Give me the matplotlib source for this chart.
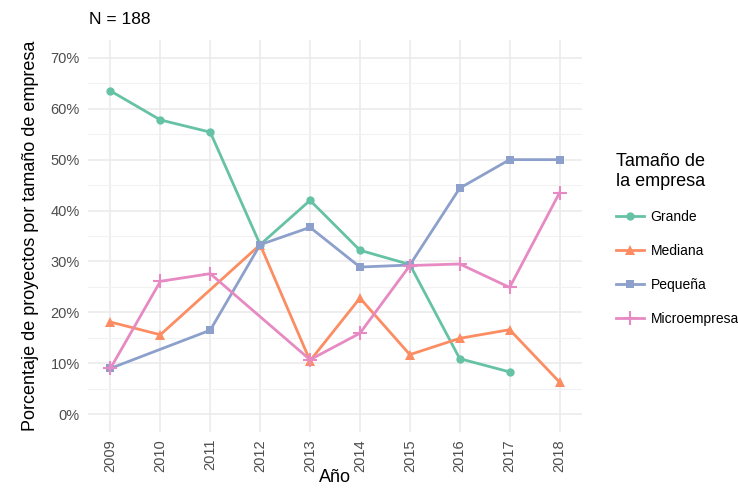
import numpy as np
import matplotlib
matplotlib.use("Agg")
import matplotlib.pyplot as plt
from matplotlib.lines import Line2D
from matplotlib.ticker import FuncFormatter, MultipleLocator

plt.rcParams['font.family'] = ['Liberation Sans', 'DejaVu Sans']

years = [2009, 2010, 2011, 2012, 2013, 2014, 2015, 2016, 2017, 2018]
nan = np.nan
grande = [63.5, 57.8, 55.4, 33.3, 42.0, 32.2, 29.4, 10.9, 8.3, nan]
mediana = [18.1, 15.6, nan, 33.3, 10.5, 22.8, 11.7, 14.9, 16.6, 6.3]
pequena = [9.0, nan, 16.5, 33.3, 36.7, 28.9, 29.3, 44.4, 50.0, 50.0]
micro = [9.0, 26.1, 27.6, nan, 10.7, 15.9, 29.2, 29.5, 24.9, 43.5]

series_names = ["Grande", "Mediana", "Pequeña", "Microempresa"]
series_vals = [grande, mediana, pequena, micro]
colors = ["#66C2A5", "#FC8D62", "#8DA0CB", "#E78AC3"]
markers = ["o", "^", "s", "+"]
msizes = [6, 7, 6, 10]

fig = plt.figure(figsize=(7.38, 4.88), dpi=100)
ax = fig.add_axes([88/738, 1-432/488, (582-88)/738, (432-40)/488])

handles = []
for name, vals, c, m, ms in zip(series_names, series_vals, colors, markers, msizes):
    x = np.array(years, dtype=float)
    y = np.array(vals, dtype=float) / 100
    ok = ~np.isnan(y)
    ax.plot(x[ok], y[ok], color=c, lw=2, marker=m, ms=ms, mew=1.5 if m == "+" else 0,
            markerfacecolor=c, markeredgecolor=c, zorder=3)
    handles.append(Line2D([0], [0], color=c, lw=2, marker=m, ms=ms, mew=1.5 if m == "+" else 0,
                          markerfacecolor=c, markeredgecolor=c))

ax.set_xlim(2009 - 0.45, 2018 + 0.45)
ax.set_ylim(-0.035, 0.735)
ax.set_xticks(years)
ax.set_xticklabels([str(y) for y in years], rotation=90)
ax.yaxis.set_major_locator(MultipleLocator(0.1))
ax.yaxis.set_minor_locator(MultipleLocator(0.05))
ax.yaxis.set_major_formatter(FuncFormatter(lambda v, p: f"{v*100:.0f}%"))

ax.grid(True, which='major', color='#EBEBEB', lw=1.2)
ax.grid(True, which='minor', axis='y', color='#F2F2F2', lw=0.8)
ax.set_axisbelow(True)
for s in ax.spines.values():
    s.set_visible(False)
ax.tick_params(axis='both', which='both', length=0, labelsize=10.5, labelcolor='#4D4D4D')
ax.tick_params(axis='x', pad=5)
ax.tick_params(axis='y', pad=6)

ax.set_xlabel("Año", fontsize=13, color='black', labelpad=-2)
ax.set_ylabel("Porcentaje de proyectos por tamaño de empresa", fontsize=13, color='black', labelpad=8)

fig.text(89/738, 1-20/488, "N = 188", fontsize=12.5, va='center', ha='left')

leg = fig.legend(handles, series_names, loc='upper left', bbox_to_anchor=(609/738, 1-146/488),
                 frameon=False, fontsize=10, title="Tamaño de\nla empresa", title_fontsize=13,
                 handlelength=2.0, handletextpad=0.5, labelspacing=1.45, borderpad=0)
leg._legend_box.align = "left"

fig.savefig("out.png", dpi=100)
